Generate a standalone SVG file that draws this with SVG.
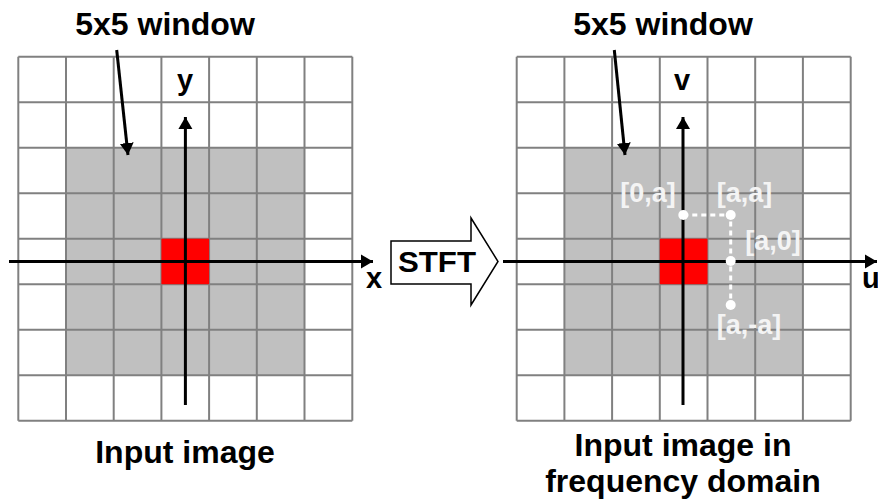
<svg xmlns="http://www.w3.org/2000/svg" width="878" height="500" viewBox="0 0 878 500">
<style>
  .lbl{font-family:"Liberation Sans",Arial,sans-serif;font-weight:bold;fill:#000;}
  .big{font-size:32px;text-anchor:middle;}
  .ax{font-size:29px;}
  .coord{font-family:"Liberation Sans",Arial,sans-serif;font-weight:bold;font-size:27px;fill:#f4f4f4;}
  .grid line{stroke:#808080;stroke-width:2;}
  .axis{stroke:#000;stroke-width:3;fill:none;marker-end:url(#ah);}
  .ptr{stroke:#000;stroke-width:3;fill:none;marker-end:url(#ah);}
  .dots{stroke:#fff;stroke-width:3;stroke-dasharray:5 4;fill:none;}
</style>
<defs>
  <marker id="ah" markerUnits="userSpaceOnUse" markerWidth="14" markerHeight="16" refX="12" refY="8" orient="auto">
    <path d="M0,1 L12,8 L0,15 Z" fill="#000"/>
  </marker>
  <g id="gridlines" class="grid">
    <line x1="0" y1="0" x2="334" y2="0"/>
    <line x1="0" y1="45.5" x2="334" y2="45.5"/>
    <line x1="0" y1="91" x2="334" y2="91"/>
    <line x1="0" y1="136.5" x2="334" y2="136.5"/>
    <line x1="0" y1="182" x2="334" y2="182"/>
    <line x1="0" y1="227.5" x2="334" y2="227.5"/>
    <line x1="0" y1="273" x2="334" y2="273"/>
    <line x1="0" y1="318.5" x2="334" y2="318.5"/>
    <line x1="0" y1="364" x2="334" y2="364"/>
    <line x1="0" y1="0" x2="0" y2="364"/>
    <line x1="47.7" y1="0" x2="47.7" y2="364"/>
    <line x1="95.4" y1="0" x2="95.4" y2="364"/>
    <line x1="143.1" y1="0" x2="143.1" y2="364"/>
    <line x1="190.8" y1="0" x2="190.8" y2="364"/>
    <line x1="238.5" y1="0" x2="238.5" y2="364"/>
    <line x1="286.2" y1="0" x2="286.2" y2="364"/>
    <line x1="334" y1="0" x2="334" y2="364"/>
  </g>
</defs>
<rect width="878" height="500" fill="#fff"/>

<g id="input-image">
  <g transform="translate(18.3,56.7)">
    <rect x="0" y="0" width="334" height="364" fill="#fff"/>
    <rect x="47.7" y="91" width="238.5" height="227.5" fill="#c0c0c0"/>
    <use href="#gridlines"/>
    <rect x="143.1" y="182" width="47.7" height="45.5" fill="#ff0000"/>
  </g>
  <text class="lbl big" x="185" y="463">Input image</text>
</g>

<g id="freq-image">
  <g transform="translate(516.7,56.7)">
    <rect x="0" y="0" width="334" height="364" fill="#fff"/>
    <rect x="47.7" y="91" width="238.5" height="227.5" fill="#c0c0c0"/>
    <use href="#gridlines"/>
    <rect x="143.1" y="182" width="47.7" height="45.5" fill="#ff0000"/>
  </g>
  <text class="lbl big" x="683" y="456">Input image in</text>
  <text class="lbl big" x="683" y="492">frequency domain</text>
</g>

<g id="window-label-left">
  <text class="lbl big" x="165" y="35">5x5 window</text>
</g>
<g id="window-label-right">
  <text class="lbl big" x="663" y="35">5x5 window</text>
</g>

<g id="stft">
  <path d="M391,241 L471,241 L471,218 L498,261.5 L471,305 L471,284 L391,284 Z" fill="#fff" stroke="#000" stroke-width="1.5"/>
  <text class="lbl" x="437" y="272" font-size="30" text-anchor="middle" textLength="78" lengthAdjust="spacingAndGlyphs">STFT</text>
</g>

<g id="connectors">
  <line class="axis" x1="9" y1="261.5" x2="373" y2="261.5"/>
  <line class="axis" x1="185.4" y1="405" x2="185.4" y2="117"/>
  <line class="axis" x1="503" y1="261.5" x2="877" y2="261.5"/>
  <line class="axis" x1="683" y1="405" x2="683" y2="117"/>
  <line class="ptr" x1="116.7" y1="50" x2="128" y2="155"/>
  <line class="ptr" x1="614.3" y1="50" x2="625" y2="155"/>
  <path class="dots" d="M683.3,215 L730.7,215 L730.7,305"/>
</g>

<g id="axis-labels">
  <text class="lbl ax" x="185" y="90" text-anchor="middle">y</text>
  <text class="lbl ax" x="374" y="288" text-anchor="middle">x</text>
  <text class="lbl ax" x="682" y="90" text-anchor="middle">v</text>
  <text class="lbl ax" x="862" y="288">u</text>
</g>

<g id="points">
  <circle cx="683.3" cy="215" r="5" fill="#fff"/>
  <circle cx="730.7" cy="215" r="5" fill="#fff"/>
  <circle cx="730.7" cy="261" r="5" fill="#fff"/>
  <circle cx="730.7" cy="305" r="5" fill="#fff"/>
  <text class="coord" x="648" y="202" text-anchor="middle">[0,a]</text>
  <text class="coord" x="744.5" y="202" text-anchor="middle">[a,a]</text>
  <text class="coord" x="773" y="250" text-anchor="middle">[a,0]</text>
  <text class="coord" x="749" y="334" text-anchor="middle">[a,-a]</text>
</g>
</svg>
